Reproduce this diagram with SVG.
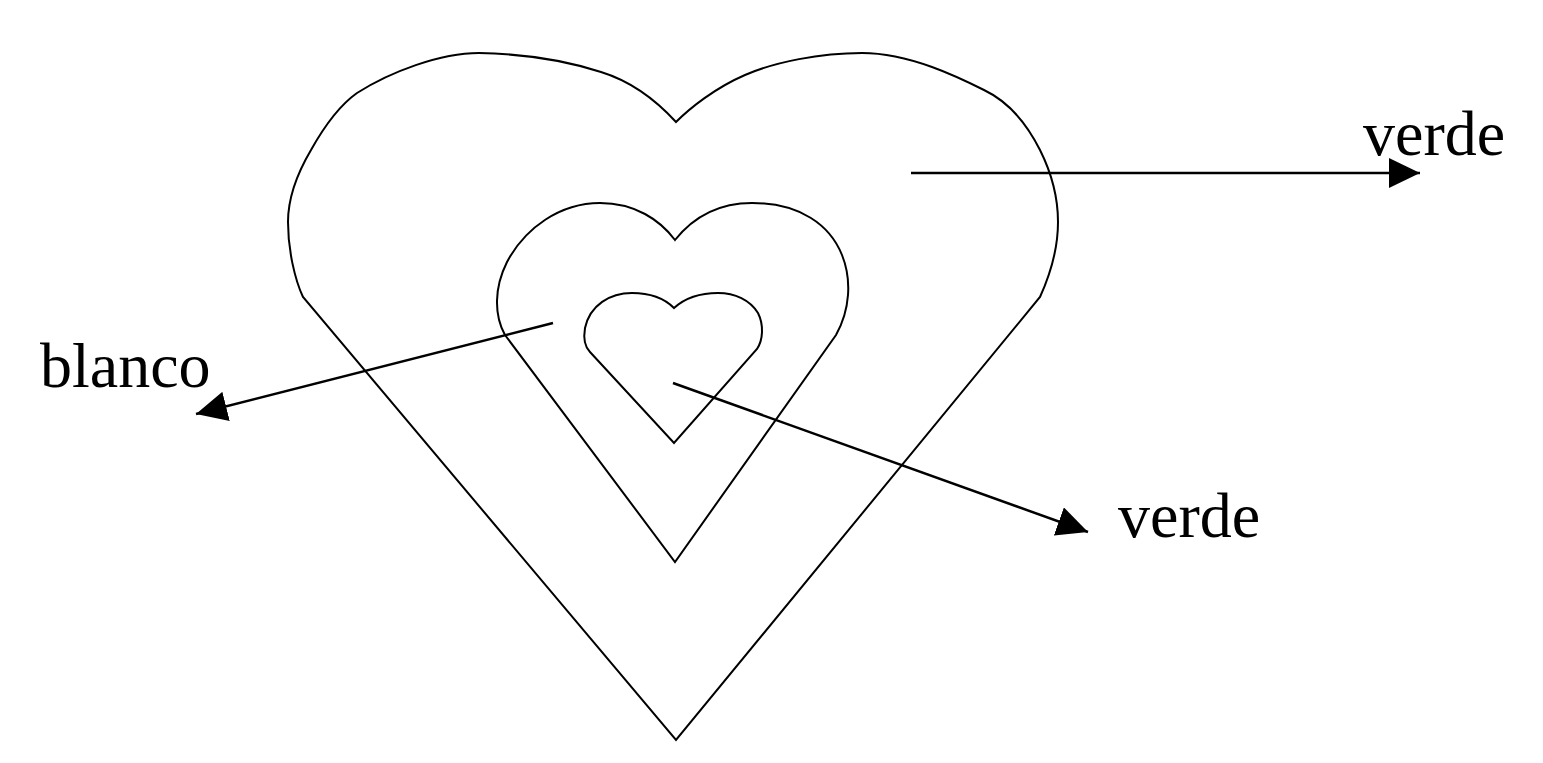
<svg xmlns="http://www.w3.org/2000/svg" width="1543" height="763" viewBox="0 0 1543 763">
  <style>
    .heart { fill: none; stroke: #000; stroke-width: 2; stroke-linejoin: miter; }
    .conn { fill: none; stroke: #000; stroke-width: 2.5; }
    .lbl { font-family: "Liberation Serif", "Times New Roman", serif; font-size: 64px; fill: #000; }
  </style>
  <defs>
    <marker id="arrow" markerUnits="userSpaceOnUse" markerWidth="32" markerHeight="30" viewBox="0 0 32 30" refX="31" refY="15" orient="auto">
      <path d="M0,0 L31,15 L0,30 Z" fill="#000"/>
    </marker>
  </defs>
  <rect width="1543" height="763" fill="#fff"/>
  <g id="heart-outer">
    <path class="heart" d="M676,122 C665,110 640,84 601,72 C570,62 530,54 479,53 C440,53 390,72 357,93 C340,105 325,125 311,150 C298,172 288,195 288,222 C288,250 295,280 303,297 L676,740 L1040,297 C1050,275 1058,250 1058,222 C1058,195 1050,170 1040,150 C1025,120 1005,100 984,90 C960,78 910,53 862,53 C820,53 775,62 745,75 C715,88 690,108 676,122 Z"/>
  </g>
  <g id="heart-middle">
    <path class="heart" d="M675,240 C660,220 635,203 600,203 C560,203 525,228 507,262 C494,288 494,315 505,335 L675,562 L836,335 C850,310 852,280 842,255 C830,225 800,203 752,203 C720,203 695,215 675,240 Z"/>
  </g>
  <g id="heart-inner">
    <path class="heart" d="M674,308 C664,298 650,293 632,293 C610,293 590,305 585,328 C583,340 586,348 590,352 L674,443 L757,349 C763,340 764,325 758,313 C750,300 735,293 718,293 C700,293 685,298 674,308 Z"/>
  </g>
  <g id="connectors">
    <line class="conn" x1="911" y1="173" x2="1420" y2="173" marker-end="url(#arrow)"/>
    <line class="conn" x1="553" y1="323" x2="196" y2="414" marker-end="url(#arrow)"/>
    <line class="conn" x1="673" y1="383" x2="1088" y2="532" marker-end="url(#arrow)"/>
  </g>
  <g id="label-verde-top"><text class="lbl" x="1363" y="155">verde</text></g>
  <g id="label-blanco"><text class="lbl" x="40" y="387">blanco</text></g>
  <g id="label-verde-bottom"><text class="lbl" x="1118" y="537">verde</text></g>
</svg>
